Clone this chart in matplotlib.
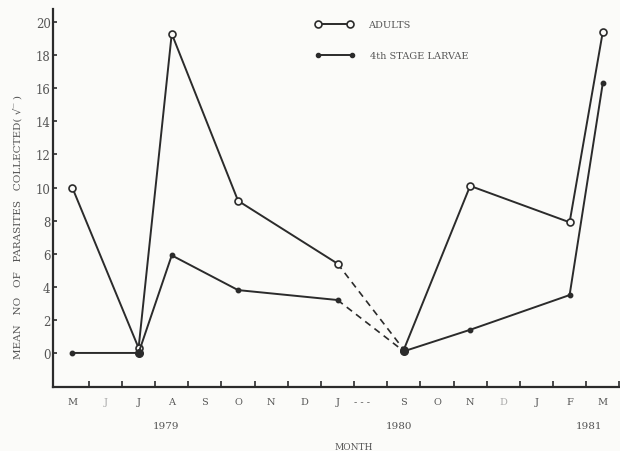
import matplotlib
matplotlib.use("Agg")
import matplotlib.pyplot as plt

# Month slots along the time axis (one slot per month, with a break after Jan 1980)
month_labels = ["M", "J", "J", "A", "S", "O", "N", "D", "J", "- - -",
                "S", "O", "N", "D", "J", "F", "M"]
faint_labels = [1, 13]

# Sampling occasions (slot index) and mean counts
sample_slot = [0, 2, 3, 5, 8, 10, 12, 15, 16]
adults = [10.0, 0.3, 19.3, 9.2, 5.4, 0.2, 10.1, 7.9, 19.4]
larvae = [0.0, 0.0, 5.9, 3.8, 3.2, 0.1, 1.4, 3.5, 16.3]

year_labels = ["1979", "1980", "1981"]
year_pos = [2.82, 9.86, 15.6]

y_ticks = list(range(0, 21, 2))

bg = "#fbfbf9"
ink = "#2b2b2b"
txt = "#555555"
font = "DejaVu Serif"

fig = plt.figure(figsize=(6.2, 4.52), dpi=100, facecolor=bg)
ax = fig.add_axes([0.0861, 0.1423, 0.9139, 0.8357])
ax.set_facecolor(bg)

# the gap between Jan 1980 and Sep 1980 is drawn dashed
gap = 4  # index within the sample list where the break starts


def draw_series(values, marker, ms, mfc):
    xs, ys = sample_slot, values
    ax.plot(xs[:gap + 1], ys[:gap + 1], color=ink, lw=1.4, marker=marker,
            ms=ms, mfc=mfc, mec=ink, mew=1.2, zorder=3)
    ax.plot(xs[gap:gap + 2], ys[gap:gap + 2], color=ink, lw=1.2,
            ls=(0, (4, 3)), zorder=2)
    ax.plot(xs[gap + 1:], ys[gap + 1:], color=ink, lw=1.4, marker=marker,
            ms=ms, mfc=mfc, mec=ink, mew=1.2, zorder=3)


draw_series(adults, "o", 5, bg)
draw_series(larvae, "o", 3, ink)

# overlapping points at the two near-zero occasions appear as heavy dots
for i in (1, 5):
    ax.plot(sample_slot[i], larvae[i], "o", ms=5.5, color=ink, zorder=4)

ax.set_xlim(-0.57, 16.52)
ax.set_ylim(-2.04, 20.8)

for s in ("top", "right"):
    ax.spines[s].set_visible(False)
for s in ("left", "bottom"):
    ax.spines[s].set_color(ink)
    ax.spines[s].set_linewidth(1.6)

ax.set_yticks(y_ticks)
ax.set_yticklabels([str(v) for v in y_ticks], fontfamily=font, fontsize=8.5,
                   color=txt)
ax.tick_params(axis="y", direction="in", length=3, width=1.2, color=ink,
               pad=2)

ax.set_xticks([i + 0.5 for i in range(len(month_labels))])
ax.set_xticklabels([])
ax.tick_params(axis="x", direction="in", length=4, width=1.2, color=ink)

for i, lab in enumerate(month_labels):
    ax.text(i if lab != "- - -" else i - 0.25, -0.038, lab,
            transform=ax.get_xaxis_transform(), ha="center", va="center",
            fontfamily=font, fontsize=7,
            color="#aaaaaa" if i in faint_labels else txt)

for lab, xp in zip(year_labels, year_pos):
    ax.text(xp, -0.104, lab, transform=ax.get_xaxis_transform(),
            ha="center", va="center", fontfamily=font, fontsize=7.5, color=txt)

ax.text(8.49, -0.159, "MONTH", transform=ax.get_xaxis_transform(),
        ha="center", va="center", fontfamily=font, fontsize=6.5, color=txt)

fig.text(0.0287, 0.498,
         "MEAN   NO   OF   PARASITES   COLLECTED( \u221a\u203e )",
         rotation=90, ha="center", va="center", fontfamily=font, fontsize=7.5,
         color=txt)

# key
ax.plot([0.467, 0.524], [0.960, 0.960], transform=ax.transAxes, color=ink,
        lw=1.4, marker="o", ms=5, mfc=bg, mec=ink, mew=1.2, clip_on=False)
ax.plot([0.467, 0.527], [0.878, 0.878], transform=ax.transAxes, color=ink,
        lw=1.4, marker="o", ms=3, mfc=ink, mec=ink, clip_on=False)
ax.text(0.555, 0.960, "ADULTS", transform=ax.transAxes, ha="left",
        va="center", fontfamily=font, fontsize=7, color=txt)
ax.text(0.559, 0.878, "4th STAGE LARVAE", transform=ax.transAxes, ha="left",
        va="center", fontfamily=font, fontsize=7, color=txt)

fig.savefig("out.png", dpi=100, facecolor=bg)
